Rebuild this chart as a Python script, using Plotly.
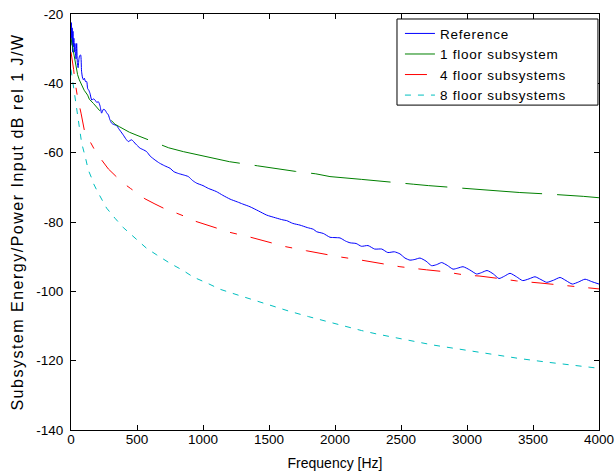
import plotly.graph_objects as go

# ---- data ----
ref_f = [0, 3, 6, 9, 12, 15, 18, 22, 26, 30, 34, 38, 43, 48, 54, 60, 66, 73, 80, 88, 95, 101, 110, 119, 126, 135, 144, 157, 170, 182, 195, 207, 220, 232, 245, 258, 270, 283, 295, 308, 320, 333, 346, 360, 375, 396, 415, 434, 447, 460, 490, 523, 550, 573, 600, 636, 670, 710, 750, 780, 813, 850, 889, 920, 952, 1000, 1040, 1100, 1150, 1205, 1260, 1300, 1356, 1420, 1482, 1550, 1606, 1634, 1680, 1735, 1790, 1836, 1861, 1911, 1962, 2000, 2038, 2080, 2114, 2160, 2200, 2250, 2300, 2354, 2400, 2450, 2492, 2530, 2568, 2605, 2644, 2690, 2732, 2770, 2808, 2850, 2894, 2930, 2970, 3020, 3073, 3110, 3152, 3200, 3242, 3285, 3326, 3375, 3422, 3470, 3515, 3560, 3604, 3655, 3705, 3750, 3798, 3845, 3894, 3945, 4000]
ref_v = [-29, -22.5, -27, -24, -31, -25, -29.5, -27, -31, -28.5, -31.5, -33, -28.5, -34, -35.5, -33, -32, -31.8, -36.5, -38.5, -39, -38.5, -39.5, -39.5, -41.5, -42, -42.9, -44.8, -44.5, -44.8, -45.5, -45.3, -46.5, -48.6, -47.5, -47.7, -48.5, -49.1, -50.5, -51.5, -51.8, -52, -52.2, -53, -53.8, -54.9, -56, -56.8, -56.5, -56.3, -57.5, -58.7, -59.2, -59.7, -61, -62.1, -63, -63.8, -64.5, -65.5, -66, -66.4, -66.9, -68, -68.8, -69.5, -70.3, -71.2, -72.3, -73.4, -74.2, -74.8, -75.6, -76.8, -78, -78.8, -79.4, -79.6, -80.4, -80.9, -81.6, -82.1, -82.8, -83.3, -84.4, -84.5, -84.6, -85.5, -86, -86.2, -87, -86.8, -87.8, -87.8, -88.8, -88.6, -89.2, -90.4, -91, -90.8, -90.4, -91.3, -92.6, -92.3, -91.7, -92.5, -93.6, -93.3, -92.9, -93.8, -95, -94.6, -94, -95, -96.3, -95.6, -94.8, -95.8, -96.9, -96.4, -95.8, -96.6, -97.4, -96.8, -96, -96.9, -97.9, -97.3, -96.5, -97.2, -97.9]

one_f = [0, 10, 20, 38, 50, 63, 80, 100, 126, 139, 170, 215, 245, 290, 333, 366, 442, 500, 600, 740, 851, 1000, 1200, 1414, 1525, 1700, 1854, 1962, 2200, 2400, 2593, 2707, 2900, 3043, 3157, 3400, 3600, 3763, 3881, 4000]
one_v = [-27, -29, -31.5, -35.2, -37.5, -39, -40.5, -42, -43.4, -44.6, -45.8, -47.7, -49.1, -50.1, -51.8, -52.5, -54.1, -55, -56.5, -58.6, -59.7, -61, -62.6, -63.8, -64.5, -65.4, -66.1, -66.9, -67.7, -68.5, -69.1, -69.5, -70.1, -70.5, -70.8, -71.5, -71.9, -72.2, -72.6, -73]

four_f = [0, 10, 20, 30, 51, 76, 101, 140, 182, 230, 283, 340, 396, 450, 498, 560, 636, 700, 783, 850, 927, 1035, 1100, 1205, 1361, 1500, 1624, 1785, 1900, 2025, 2200, 2350, 2492, 2694, 2821, 2985, 3098, 3263, 3376, 3553, 3725, 3831, 4000]
four_v = [-31, -33, -36, -39.5, -44.3, -48.6, -53.5, -56.5, -59.4, -62, -64.7, -66.8, -68.8, -70.3, -71.5, -73.3, -74.8, -76, -77.2, -78.2, -79.6, -80.9, -81.7, -83, -84.4, -85.8, -87.1, -88.3, -89.1, -90, -91, -92, -92.9, -93.8, -94.3, -95.3, -95.6, -96.4, -97, -97.6, -98.3, -98.8, -99.3]

eight_f = [0, 13, 25, 30, 38, 55, 81, 110, 131, 157, 169, 195, 220, 252, 270, 300, 333, 396, 450, 500, 573, 650, 750, 850, 927, 1030, 1129, 1250, 1356, 1500, 1650, 1800, 1962, 2076, 2200, 2316, 2400, 2543, 2745, 2960, 3200, 3400, 3600, 3800, 4000]
eight_v = [-36, -39.5, -42.4, -44.8, -46.7, -51.5, -57.3, -61.5, -65, -67.4, -68.8, -70.8, -72.7, -74.8, -76, -77.5, -78.9, -81.6, -83.5, -85.2, -87.6, -89.5, -91.9, -94, -95.9, -97.6, -99.4, -100.9, -102.2, -104, -105.7, -107.3, -109, -110.2, -111.3, -112.3, -113, -114, -115.5, -116.8, -118.2, -119.4, -120.4, -121.3, -122.2]

series_names = ["Reference", "1 floor subsystem", "4 floor subsystems", "8 floor subsystems"]

x_ticks = [0, 500, 1000, 1500, 2000, 2500, 3000, 3500, 4000]
y_ticks = [-140, -120, -100, -80, -60, -40, -20]

x_title = "Frequency [Hz]"
y_title = "Subsystem Energy/Power Input dB rel 1 J/W"

FONT = "Liberation Sans, Arial, Helvetica, sans-serif"


def spaced(text, px):
    return '<span style="letter-spacing:%spx">%s</span>' % (px, text)


fig = go.Figure()
fig.add_trace(go.Scatter(x=ref_f, y=ref_v, mode="lines", name=spaced(series_names[0], 0.75),
                         line=dict(color="#0000FF", width=1, shape="spline", smoothing=0.6)))
fig.add_trace(go.Scatter(x=one_f, y=one_v, mode="lines", name=spaced(series_names[1], 0.75),
                         line=dict(color="#008000", width=1, dash="80px,15px,42px,15px")))
fig.add_trace(go.Scatter(x=four_f, y=four_v, mode="lines", name=spaced(series_names[2], 0.75),
                         line=dict(color="#FF0000", width=1, dash="22px,14px,7px,14px")))
fig.add_trace(go.Scatter(x=eight_f, y=eight_v, mode="lines", name=spaced(series_names[3], 0.75),
                         line=dict(color="#00BFBF", width=1, dash="6px,7px")))

axis_common = dict(showline=True, linecolor="black", linewidth=1, mirror="ticks",
                   ticks="inside", ticklen=5, tickcolor="black", showgrid=False,
                   zeroline=False, ticklabeloverflow="allow",
                   tickfont=dict(size=13.5, color="black", family=FONT))

fig.update_xaxes(range=[0, 4000], tickvals=x_ticks, ticktext=[str(t) for t in x_ticks],
                 ticklabelstandoff=-3,
                 title=dict(text=x_title, font=dict(size=14, color="black", family=FONT), standoff=11),
                 **axis_common)
fig.update_yaxes(range=[-140, -20], tickvals=y_ticks, ticktext=[str(t) for t in y_ticks],
                 ticklabelstandoff=4,
                 title=dict(text=spaced(y_title, 1.5),
                            font=dict(size=16, color="black", family=FONT), standoff=8),
                 **axis_common)

# legend frame (drawn as a box in plot-area coordinates)
fig.add_shape(type="rect", xref="paper", yref="paper",
              x0=0.6174, x1=0.998, y0=0.781, y1=0.988,
              line=dict(color="black", width=1), fillcolor="white", layer="above")

fig.update_layout(
    width=615, height=475,
    margin=dict(l=71, r=16, t=14, b=45, autoexpand=False),
    paper_bgcolor="white", plot_bgcolor="white",
    font=dict(family=FONT, size=13.5, color="black"),
    showlegend=True,
    legend=dict(x=0.623, y=0.990, xanchor="left", yanchor="top",
                bgcolor="rgba(0,0,0,0)", borderwidth=0,
                font=dict(size=13.5, color="black", family=FONT),
                itemwidth=30, tracegroupgap=0),
)

# remove the default page margin so the 615x475 figure fills the window exactly
fig.write_html(
    "out.html",
    config={"displayModeBar": False},
    post_script="document.body.style.margin='0px';document.body.style.padding='0px';"
                "document.documentElement.style.overflow='hidden';",
)
